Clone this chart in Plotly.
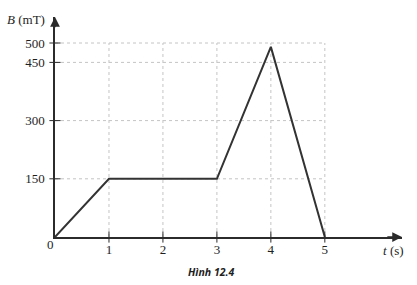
import plotly.graph_objects as go

t_values = [0, 1, 3, 4, 5]
b_values = [0, 150, 150, 490, 0]
x_ticks = [1, 2, 3, 4, 5]
y_ticks = [150, 300, 450, 500]

X_MAX = 6.43
Y_MAX = 567
AX_COLOR = "#2b2b2b"
SERIF = "Liberation Serif"
TXT = "#1e1e1e"

fig = go.Figure()

# dotted grid
for xv in x_ticks:
    fig.add_shape(type="line", xref="x", yref="y", x0=xv, x1=xv, y0=0, y1=max(y_ticks),
                  line=dict(color="#c4c4c4", width=1, dash="dot"), layer="below")
for yv in y_ticks:
    fig.add_shape(type="line", xref="x", yref="y", x0=0, x1=max(x_ticks), y0=yv, y1=yv,
                  line=dict(color="#c4c4c4", width=1, dash="dot"), layer="below")

# data line
fig.add_trace(go.Scatter(x=t_values, y=b_values, mode="lines",
                         line=dict(color="#333333", width=2), cliponaxis=False,
                         hoverinfo="skip"))

# crossing tick marks
fig.add_trace(go.Scatter(x=x_ticks, y=[0] * len(x_ticks), mode="markers",
                         marker=dict(symbol="line-ns", size=8,
                                     line=dict(color=AX_COLOR, width=1)),
                         cliponaxis=False, hoverinfo="skip"))
fig.add_trace(go.Scatter(x=[0] * len(y_ticks), y=y_ticks, mode="markers",
                         marker=dict(symbol="line-ew", size=8,
                                     line=dict(color=AX_COLOR, width=1)),
                         cliponaxis=False, hoverinfo="skip"))

# axis arrows
fig.add_annotation(x=X_MAX, y=0, ax=X_MAX - 0.3, ay=0, xref="x", yref="y",
                   axref="x", ayref="y", showarrow=True, arrowhead=2,
                   arrowsize=1.3, arrowwidth=1.5, arrowcolor=AX_COLOR, text="")
fig.add_annotation(x=0, y=Y_MAX, ax=0, ay=Y_MAX - 30, xref="x", yref="y",
                   axref="x", ayref="y", showarrow=True, arrowhead=2,
                   arrowsize=1.3, arrowwidth=1.5, arrowcolor=AX_COLOR, text="")

# labels
fig.add_annotation(x=0, y=0, xref="x", yref="y", text="0", showarrow=False,
                   xanchor="center", yanchor="middle", xshift=-5, yshift=-7,
                   font=dict(family=SERIF, size=13, color=TXT))
fig.add_annotation(x=0, y=Y_MAX, xref="x", yref="y", text="<i>B</i> (mT)",
                   showarrow=False, xanchor="right", yanchor="middle",
                   xshift=-8, yshift=-2,
                   font=dict(family=SERIF, size=13, color=TXT))
fig.add_annotation(x=X_MAX, y=0, xref="x", yref="y", text="<i>t</i> (s)",
                   showarrow=False, xanchor="right", yanchor="middle",
                   xshift=4, yshift=-13,
                   font=dict(family=SERIF, size=13, color=TXT))

plot_w = 417 - 55 - 15
plot_h = 285 - 17 - 48
fig.add_annotation(x=(211 - 55) / plot_w, y=-(272 - (285 - 48)) / plot_h,
                   xref="paper", yref="paper", text="<b><i>Hình 12.4</i></b>",
                   showarrow=False, xanchor="center", yanchor="middle",
                   font=dict(family="Open Sans", size=10.5, color=TXT))

fig.update_layout(
    width=417, height=285,
    margin=dict(l=55, r=15, t=17, b=48),
    paper_bgcolor="white", plot_bgcolor="white",
    showlegend=False,
    xaxis=dict(range=[0, X_MAX], tickvals=x_ticks, ticktext=[str(v) for v in x_ticks],
               showgrid=False, zeroline=False, showline=True, linecolor=AX_COLOR,
               linewidth=1.5, ticks="", tickfont=dict(family=SERIF, size=13, color=TXT),
               fixedrange=True),
    yaxis=dict(range=[0, Y_MAX], tickvals=y_ticks, ticktext=[str(v) for v in y_ticks],
               showgrid=False, zeroline=False, showline=True, linecolor=AX_COLOR,
               linewidth=1.5, ticks="", ticklabelstandoff=6,
               tickfont=dict(family=SERIF, size=13, color=TXT), fixedrange=True),
)

fig.write_html("out.html")
